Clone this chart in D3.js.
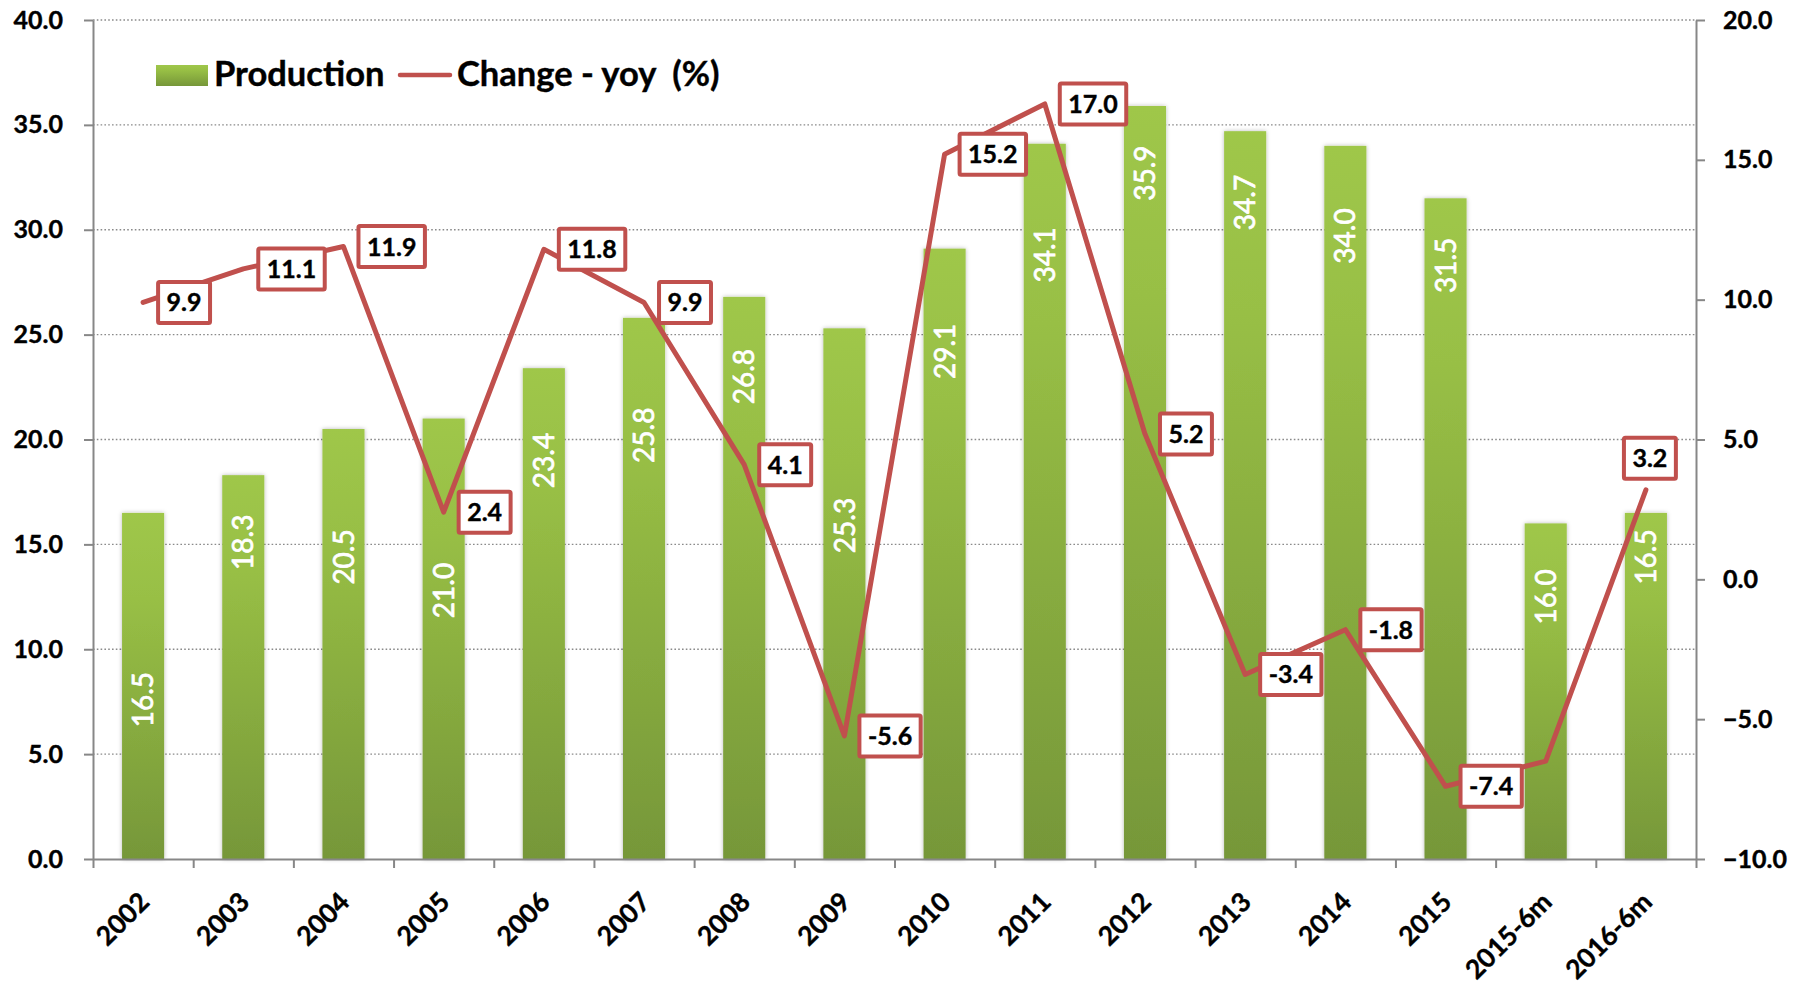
<!DOCTYPE html>
<html><head><meta charset="utf-8">
<script src="https://cdn.jsdelivr.net/npm/d3@7"></script>
<style>
body{margin:0;background:#fff}
svg{display:block}
text{font-family:Lato,"Open Sans",sans-serif}
</style>
</head><body>
<svg id="chart" width="1803" height="986"></svg>
<script>
// ---------------- data ----------------
const categories = ["2002","2003","2004","2005","2006","2007","2008","2009","2010","2011","2012","2013","2014","2015","2015-6m","2016-6m"];
const production = [16.5,18.3,20.5,21.0,23.4,25.8,26.8,25.3,29.1,34.1,35.9,34.7,34.0,31.5,16.0,16.5];
const changeYoy  = [9.9,11.1,11.9,2.4,11.8,9.9,4.1,-5.6,15.2,17.0,5.2,-3.4,-1.8,-7.4,-6.5,3.2];
const changeLabelHidden = ["2015-6m"];
const changeLabelAbove  = ["2016-6m"];
const leftTicks  = [0,5,10,15,20,25,30,35,40];
const rightTicks = [-10,-5,0,5,10,15,20];
// where each production label is centred, in left-axis units (labels were hand-placed)
const productionLabelAt = [7.6,15.1,14.4,12.8,19.0,20.2,23.0,15.9,24.2,28.8,32.7,31.3,29.7,28.3,12.5,14.4];
const seriesNames = ["Production","Change - yoy  (%)"];

// ---------------- layout ----------------
const svg = d3.select("#chart");
const L = 93, R = 1696, T = 20, B = 859;
const red = "#C0504D", axisGrey = "#878787";

const x = d3.scaleBand().domain(categories).range([L, R]).paddingInner(0.58).paddingOuter(0.29);
const xEdge = d3.scaleLinear().domain([0, categories.length]).range([L, R]);
const yL = d3.scaleLinear().domain([0, 40]).range([B, T]);
const yR = d3.scaleLinear().domain([-10, 20]).range([B, T]);
const cx = c => x(c) + x.bandwidth() / 2;

const defs = svg.append("defs");
const grad = defs.append("linearGradient").attr("id","barGrad").attr("x1",0).attr("y1",0).attr("x2",0).attr("y2",1);
grad.append("stop").attr("offset","0%").attr("stop-color","#9FC74A");
grad.append("stop").attr("offset","25%").attr("stop-color","#98BF45");
grad.append("stop").attr("offset","100%").attr("stop-color","#769739");
const f = defs.append("filter").attr("id","shadow").attr("x","-30%").attr("y","-10%").attr("width","160%").attr("height","120%");
f.append("feDropShadow").attr("dx",0).attr("dy",0).attr("stdDeviation",2.2).attr("flood-color","#000").attr("flood-opacity",0.28);

// gridlines
svg.append("g").selectAll("line").data(leftTicks.filter(t => t > 0)).join("line")
  .attr("x1", L).attr("x2", R).attr("y1", d => yL(d)).attr("y2", d => yL(d))
  .attr("stroke", "#8a8a8a").attr("stroke-width", 1.4).attr("stroke-dasharray", "1.6,2.2");

// bars
svg.append("g").selectAll("rect").data(categories).join("rect")
  .attr("x", c => x(c)).attr("width", x.bandwidth())
  .attr("y", (c,i) => yL(production[i])).attr("height", (c,i) => yL(0) - yL(production[i]))
  .attr("fill", "url(#barGrad)").attr("filter", "url(#shadow)");

// bar labels
svg.append("g").selectAll("text").data(categories).join("text")
  .attr("transform", (c,i) => `translate(${cx(c)},${yL(productionLabelAt[i])}) rotate(-90)`)
  .attr("text-anchor", "middle").attr("dy", "0.36em")
  .attr("fill", "#fff").attr("stroke", "#fff").attr("stroke-width", 0.7)
  .style("font-size", "28px").style("font-weight", 400)
  .text((c,i) => production[i].toFixed(1));

// axes
function styleAxis(g){
  g.select(".domain").attr("stroke", axisGrey).attr("stroke-width", 2);
  g.selectAll(".tick line").attr("stroke", axisGrey).attr("stroke-width", 2);
  g.selectAll("text").attr("fill", "#000").attr("stroke", "#000").attr("stroke-width", 0.4)
    .style("font-weight", 700).style("font-family", "Lato, sans-serif");
}
svg.append("g").attr("transform", `translate(${L},0)`)
  .call(d3.axisLeft(yL).tickValues(leftTicks).tickFormat(d3.format(".1f")).tickSize(9).tickSizeOuter(0).tickPadding(21))
  .call(styleAxis).call(g => g.selectAll("text").style("font-size", "25px"));
svg.append("g").attr("transform", `translate(${R},0)`)
  .call(d3.axisRight(yR).tickValues(rightTicks).tickFormat(d3.format(".1f")).tickSize(9).tickSizeOuter(0).tickPadding(18))
  .call(styleAxis).call(g => g.selectAll("text").style("font-size", "25px"));
svg.append("g").attr("transform", `translate(0,${B})`)
  .call(d3.axisBottom(xEdge).tickValues(d3.range(categories.length + 1)).tickFormat("").tickSize(9).tickSizeOuter(0))
  .call(styleAxis);
svg.append("g").attr("transform", `translate(0,${B})`)
  .call(d3.axisBottom(x).tickSize(0))
  .call(g => g.select(".domain").remove())
  .call(styleAxis)
  .call(g => g.selectAll("text")
     .attr("x", 0).attr("y", 0).attr("dy", "0.36em")
     .attr("text-anchor", "end")
     .attr("transform", "translate(1,38) rotate(-45)")
     .style("font-size", "26.5px"));

// line
const line = d3.line().x((v,i) => cx(categories[i])).y(v => yR(v));
svg.append("path").datum(changeYoy).attr("d", line)
  .attr("fill", "none").attr("stroke", red).attr("stroke-width", 5)
  .attr("stroke-linejoin", "round").attr("stroke-linecap", "round");

// line labels
const lab = svg.append("g");
categories.forEach((c, i) => {
  if (changeLabelHidden.includes(c)) return;
  const px = cx(c), py = yR(changeYoy[i]);
  const g = lab.append("g");
  const rect = g.append("rect");
  const t = g.append("text").text(changeYoy[i].toFixed(1))
    .attr("text-anchor", "middle").attr("dy", "0.36em")
    .attr("stroke", "#000").attr("stroke-width", 0.4)
    .style("font-size", "25px").style("font-weight", 700).attr("fill", "#000");
  const w = t.node().getComputedTextLength() + 21, h = 45;
  let left, top;
  if (changeLabelAbove.includes(c)) { left = px + 4 - w / 2; top = py - 9 - h; }
  else { left = px + 13; top = py - h / 2; }
  rect.attr("x", left + 2).attr("y", top + 2).attr("width", w - 4).attr("height", h - 4)
    .attr("fill", "#fff").attr("stroke", red).attr("stroke-width", 4).attr("rx", 1.5);
  t.attr("x", left + w / 2).attr("y", top + h / 2);
});

// legend
const lg = svg.append("g");
lg.append("rect").attr("x", 156).attr("y", 65).attr("width", 52).attr("height", 21).attr("fill", "url(#barGrad)");
lg.append("text").attr("x", 214).attr("y", 86).text(seriesNames[0])
  .attr("stroke", "#000").attr("stroke-width", 0.4)
  .style("font-size", "34.5px").style("font-weight", 700);
lg.append("line").attr("x1", 400).attr("x2", 450).attr("y1", 75).attr("y2", 75)
  .attr("stroke", red).attr("stroke-width", 4.5).attr("stroke-linecap", "round");
lg.append("text").attr("x", 457).attr("y", 86).text(seriesNames[1])
  .attr("stroke", "#000").attr("stroke-width", 0.4)
  .style("font-size", "34.5px").style("font-weight", 700).style("white-space", "pre");
</script>
</body></html>
